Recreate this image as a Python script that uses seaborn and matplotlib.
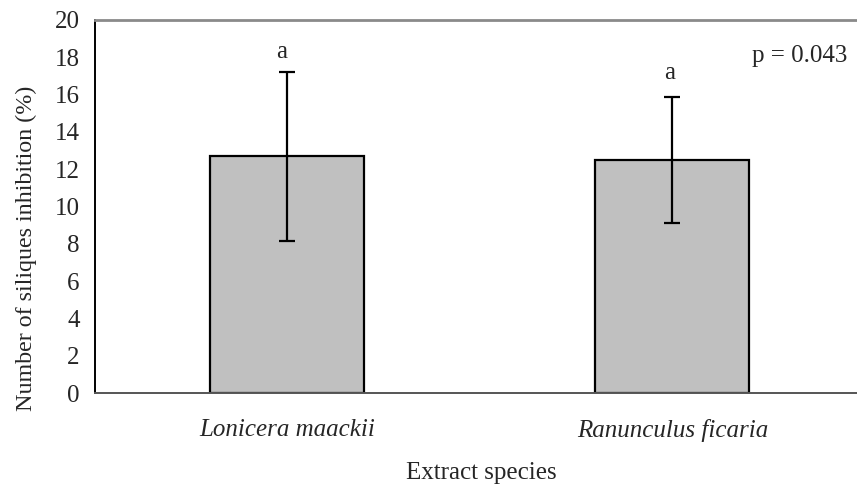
import matplotlib
matplotlib.use("Agg")
import matplotlib.pyplot as plt
import seaborn as sns
import pandas as pd

species = ["Lonicera maackii", "Ranunculus ficaria"]
means = [12.7, 12.5]
errors = [4.53, 3.37]
letters = ["a", "a"]
p_text = "p = 0.043"
yticks = [0, 2, 4, 6, 8, 10, 12, 14, 16, 18, 20]

sns.set_style("white")
plt.rcParams["font.family"] = ["Liberation Serif", "DejaVu Serif"]

FS = 18
# offsets (points) of each significance letter relative to the top of its error bar
letter_offsets = [(-4, 9.5), (-2, 13)]

df = pd.DataFrame({"species": species, "mean": means, "err": errors})

fig = plt.figure(figsize=(8.57, 4.84), dpi=100)
ax = fig.add_axes([95 / 857, 1 - 393 / 484, 762 / 857, 373 / 484])

sns.barplot(data=df, x="species", y="mean", color="#c0c0c0", saturation=1,
            edgecolor="black", linewidth=1.6, width=0.4, errorbar=None, ax=ax)
ax.errorbar(x=range(len(df)), y=df["mean"], yerr=df["err"], fmt="none",
            ecolor="black", elinewidth=1.6, capsize=6, capthick=1.6)

for i, (m, e, lab) in enumerate(zip(means, errors, letters)):
    ax.annotate(lab, xy=(i, m + e), xytext=letter_offsets[i], textcoords="offset points",
                ha="center", va="baseline", fontsize=FS)

ax.text(0.862, 0.887, p_text, transform=ax.transAxes, ha="left", va="baseline",
        fontsize=FS)

ax.set_xlim(-0.5, 1.48)
ax.set_ylim(0, 20)
ax.set_yticks(yticks)
ax.set_yticklabels([str(t) for t in yticks], fontsize=FS)
ax.set_xticks(range(len(species)))
ax.set_xticklabels(species, fontsize=FS, style="italic")
ax.tick_params(axis="x", length=0, pad=19)
ax.tick_params(axis="y", length=6, width=1.2, color="black", direction="out", pad=5)

ax.set_xlabel("Extract species", fontsize=FS, va="baseline")
ax.set_ylabel("Number of siliques inhibition (%)", fontsize=17.3)
ax.xaxis.set_label_coords(0.5066, -0.2306)
ax.yaxis.set_label_coords(-0.076, 0.389)

ax.spines["left"].set_color("black")
ax.spines["left"].set_linewidth(1.4)
ax.spines["bottom"].set_color("#555555")
ax.spines["bottom"].set_linewidth(1.4)
ax.spines["top"].set_color("#8a8a8a")
ax.spines["top"].set_linewidth(2)
ax.spines["right"].set_visible(False)

fig.savefig("out.png", dpi=100)
